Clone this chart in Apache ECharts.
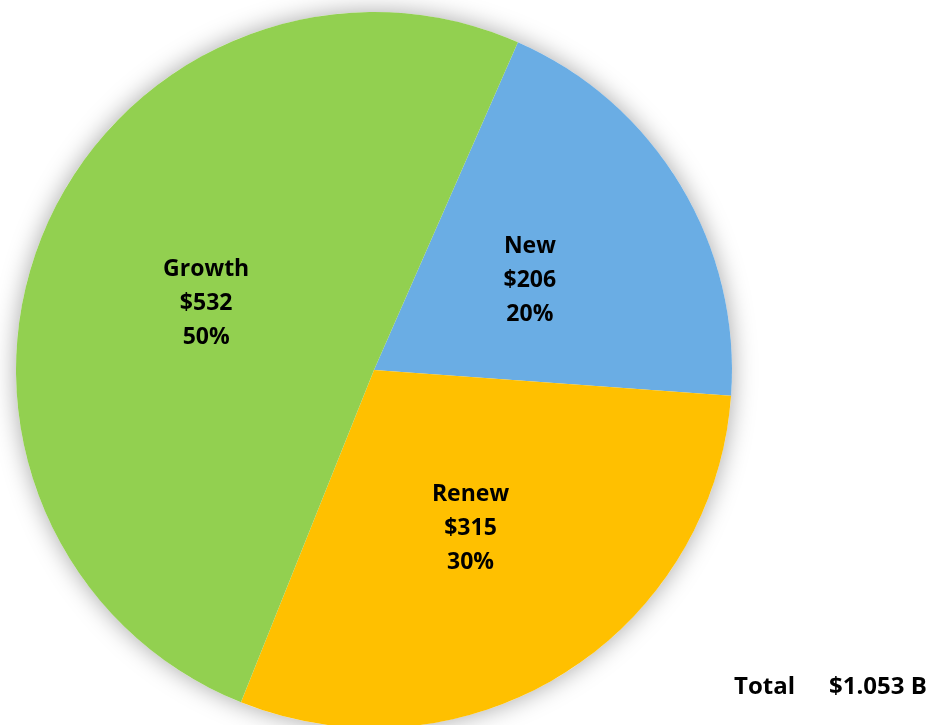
<!DOCTYPE html>
<html>
<head>
<meta charset="utf-8">
<script src="https://cdn.jsdelivr.net/npm/echarts@6/dist/echarts.min.js"></script>
<style>
html,body{margin:0;padding:0;background:#fff;}
#chart{width:938px;height:725px;}
</style>
</head>
<body>
<div id="chart"></div>
<script>
const categories = ['New', 'Renew', 'Growth'];
const values = [206, 315, 532];
const percents = ['20%', '30%', '50%'];
const colors = ['#6AADE4', '#FFC000', '#92D050'];
const totalLabel = 'Total';
const totalValue = '$1.053 B';

const chart = echarts.init(document.getElementById('chart'));

chart.setOption({
  animation: false,
  graphic: [
    { type: 'text', left: 734, top: 675, style: { text: totalLabel, font: 'bold 24px "Open Sans"', fill: '#000' } },
    { type: 'text', left: 829, top: 675, style: { text: totalValue, font: 'bold 24px "Open Sans"', fill: '#000' } }
  ],
  series: [
    {
      type: 'pie',
      center: [374, 370],
      radius: [0, 358],
      silent: true,
      z: 1,
      label: { show: false },
      labelLine: { show: false },
      itemStyle: { color: '#fff', shadowBlur: 24, shadowColor: 'rgba(0,0,0,0.35)' },
      data: [{ value: 1, name: '' }]
    },
    {
      type: 'pie',
      center: [374, 370],
      radius: [0, 358],
      startAngle: 66.3,
      clockwise: true,
      z: 2,
      itemStyle: { borderWidth: 0 },
      label: {
        show: true,
        position: 'inside',
        fontFamily: '"Open Sans"',
        fontWeight: 'bold',
        fontSize: 23,
        lineHeight: 34,
        offset: [0, 4],
        color: '#000',
        formatter: p => p.name + '\n$' + p.value + '\n' + percents[p.dataIndex]
      },
      labelLine: { show: false },
      data: categories.map((c, i) => ({ name: c, value: values[i], itemStyle: { color: colors[i] } }))
    }
  ]
});
</script>
</body>
</html>
